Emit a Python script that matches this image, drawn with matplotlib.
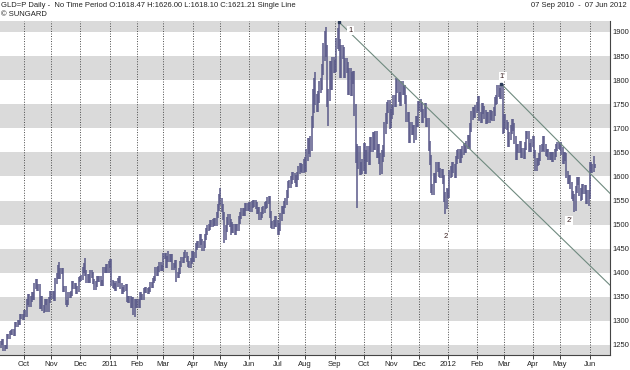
import numpy as np
import pandas as pd
import matplotlib
matplotlib.use('Agg')
import matplotlib.pyplot as plt

plt.rcParams['font.family'] = ['Liberation Sans', 'DejaVu Sans']

# GLD=P daily bars, one per weekday
dates = pd.bdate_range('2010-09-07', '2012-06-07')

highs = [
	1259, 1262, 1262, 1251, 1251, 1273, 1273, 1280, 1281, 1284, 1284, 1297, 1298, 1302, 1302, 1315, 1315, 1314,
	1323, 1323, 1346, 1355, 1355, 1352, 1360, 1360, 1378, 1387, 1387, 1376, 1376, 1351, 1351, 1332, 1345, 1346, 1346, 1350, 1363,
	1363, 1362, 1362, 1389, 1400, 1416, 1422, 1409, 1409, 1409, 1372, 1372, 1344, 1359, 1359, 1363, 1383, 1383, 1379, 1379, 1372, 1392,
	1394, 1396, 1411, 1421, 1431, 1406, 1398, 1398, 1406, 1406, 1401, 1388, 1382, 1393, 1394, 1394, 1393, 1385, 1411, 1412, 1419, 1419, 1424,
	1428, 1428, 1385, 1382, 1378, 1382, 1390, 1393, 1393, 1378, 1371, 1375, 1376, 1376, 1351, 1351, 1351, 1349, 1349, 1346, 1346,
	1346, 1346, 1359, 1359, 1355, 1369, 1370, 1370, 1369, 1371, 1380, 1381, 1390, 1394, 1412, 1412, 1414, 1422, 1422, 1416,
	1440, 1442, 1442, 1434, 1445, 1439, 1439, 1439, 1421, 1427, 1427, 1402, 1410, 1424, 1432, 1433, 1443, 1447, 1443, 1434, 1424, 1430, 1445,
	1446, 1444, 1461, 1466, 1466, 1481, 1481, 1471, 1465, 1481, 1493, 1500, 1502, 1510, 1510, 1511, 1514, 1514, 1527, 1543, 1563,
	1577, 1555, 1543, 1526, 1500, 1515, 1523, 1523, 1511, 1506, 1501, 1501, 1502, 1502, 1517, 1527, 1534, 1534, 1534, 1545, 1545, 1545,
	1546, 1546, 1549, 1552, 1552, 1551, 1547, 1537, 1536, 1527, 1537, 1539, 1546, 1549, 1557, 1560, 1560, 1528, 1507, 1510, 1517, 1517,
	1509, 1503, 1524, 1538, 1538, 1550, 1556, 1572, 1591, 1593, 1601, 1610, 1610, 1608, 1603, 1609, 1622, 1627, 1627, 1625, 1636,
	1640, 1656, 1679, 1679, 1684, 1725, 1782, 1804, 1817, 1772, 1777, 1798, 1804, 1834, 1878, 1903, 1911, 1873, 1781, 1839, 1839, 1849, 1849,
	1841, 1888, 1908, 1921, 1885, 1872, 1872, 1868, 1847, 1847, 1838, 1825, 1825, 1817, 1818, 1818, 1750, 1667, 1664, 1664, 1629, 1636,
	1669, 1669, 1654, 1663, 1663, 1682, 1682, 1692, 1692, 1694, 1694, 1667, 1667, 1649, 1655, 1665, 1713, 1732, 1755, 1758, 1758,
	1740, 1748, 1770, 1770, 1805, 1803, 1800, 1775, 1798, 1798, 1790, 1790, 1770, 1734, 1734, 1714, 1714, 1707, 1707, 1725, 1725, 1756,
	1756, 1760, 1754, 1741, 1752, 1752, 1722, 1722, 1673, 1644, 1585, 1607, 1607, 1630, 1630, 1629, 1618, 1616, 1616, 1604, 1567, 1575,
	1574, 1614, 1622, 1629, 1629, 1625, 1643, 1654, 1658, 1658, 1656, 1663, 1669, 1669, 1674, 1686, 1686, 1711, 1735, 1745, 1745, 1749,
	1754, 1767, 1767, 1734, 1752, 1752, 1747, 1738, 1734, 1734, 1737, 1737, 1736, 1744, 1766, 1769, 1790, 1790, 1784, 1792, 1792,
	1729, 1729, 1717, 1714, 1693, 1707, 1719, 1719, 1712, 1685, 1668, 1668, 1674, 1674, 1659, 1659, 1672, 1695, 1695, 1695, 1669, 1678,
	1684, 1684, 1654, 1638, 1639, 1648, 1666, 1668, 1684, 1684, 1667, 1658, 1657, 1651, 1651, 1650, 1651, 1656, 1668, 1672, 1672,
	1672, 1671, 1661, 1651, 1651, 1648, 1612, 1603, 1603, 1589, 1570, 1564, 1581, 1599, 1599, 1598, 1576, 1584, 1584, 1582, 1582, 1571, 1571,
	1630, 1630, 1625, 1642, 1626,
]

lows = [
	1244, 1249, 1237, 1237, 1241, 1241, 1263, 1263, 1270, 1271, 1269, 1269, 1287, 1288, 1292, 1292, 1304, 1302,
	1301, 1309, 1309, 1334, 1328, 1328, 1340, 1344, 1344, 1366, 1362, 1362, 1325, 1325, 1320, 1316, 1319, 1333, 1319, 1319, 1338,
	1346, 1346, 1341, 1341, 1377, 1388, 1387, 1387, 1397, 1360, 1360, 1332, 1329, 1332, 1347, 1347, 1351, 1367, 1367, 1356, 1356, 1360,
	1380, 1382, 1384, 1399, 1394, 1378, 1378, 1379, 1379, 1389, 1376, 1365, 1365, 1370, 1381, 1381, 1372, 1372, 1373, 1399, 1400, 1399, 1399,
	1410, 1373, 1368, 1366, 1362, 1363, 1370, 1378, 1366, 1355, 1355, 1359, 1363, 1339, 1337, 1337, 1327, 1327, 1313, 1309, 1326,
	1326, 1327, 1327, 1343, 1343, 1343, 1357, 1357, 1355, 1355, 1359, 1368, 1369, 1378, 1382, 1394, 1394, 1402, 1403, 1403,
	1404, 1428, 1410, 1410, 1422, 1422, 1422, 1405, 1405, 1409, 1381, 1389, 1390, 1398, 1412, 1420, 1421, 1431, 1422, 1412, 1410, 1410, 1418,
	1422, 1422, 1430, 1447, 1452, 1452, 1457, 1446, 1446, 1451, 1467, 1479, 1486, 1488, 1496, 1496, 1497, 1497, 1497, 1513, 1529,
	1540, 1527, 1510, 1462, 1468, 1484, 1499, 1495, 1478, 1482, 1482, 1478, 1478, 1486, 1486, 1501, 1511, 1518, 1517, 1517, 1529, 1528,
	1529, 1526, 1526, 1535, 1537, 1533, 1523, 1522, 1509, 1509, 1513, 1523, 1525, 1532, 1535, 1543, 1514, 1493, 1490, 1490, 1496, 1494,
	1478, 1478, 1487, 1508, 1522, 1522, 1534, 1540, 1556, 1575, 1577, 1585, 1592, 1587, 1579, 1579, 1593, 1606, 1609, 1608, 1608,
	1610, 1610, 1632, 1646, 1640, 1652, 1701, 1731, 1748, 1734, 1734, 1753, 1774, 1780, 1810, 1840, 1849, 1745, 1705, 1757, 1780, 1780, 1814,
	1814, 1817, 1864, 1861, 1805, 1805, 1844, 1804, 1804, 1814, 1770, 1770, 1767, 1767, 1793, 1726, 1627, 1534, 1616, 1603, 1603, 1605,
	1612, 1605, 1605, 1630, 1624, 1624, 1651, 1651, 1655, 1655, 1638, 1638, 1625, 1604, 1605, 1631, 1641, 1689, 1708, 1731, 1699,
	1701, 1720, 1728, 1745, 1745, 1774, 1755, 1747, 1747, 1770, 1770, 1750, 1713, 1713, 1670, 1670, 1687, 1687, 1670, 1676, 1703, 1703,
	1735, 1734, 1712, 1712, 1721, 1702, 1702, 1653, 1624, 1565, 1561, 1561, 1587, 1587, 1609, 1598, 1596, 1596, 1584, 1547, 1523, 1533,
	1556, 1556, 1596, 1598, 1607, 1597, 1597, 1625, 1636, 1628, 1628, 1638, 1645, 1648, 1648, 1656, 1656, 1656, 1693, 1717, 1722, 1722,
	1731, 1736, 1716, 1711, 1711, 1729, 1720, 1709, 1709, 1710, 1710, 1718, 1715, 1715, 1726, 1748, 1751, 1766, 1761, 1761, 1688,
	1691, 1699, 1696, 1662, 1662, 1675, 1689, 1694, 1667, 1635, 1635, 1649, 1649, 1639, 1639, 1636, 1636, 1654, 1677, 1651, 1651, 1651,
	1661, 1638, 1612, 1612, 1622, 1623, 1632, 1650, 1652, 1651, 1642, 1641, 1635, 1635, 1634, 1629, 1629, 1635, 1640, 1652, 1656,
	1655, 1645, 1626, 1626, 1632, 1596, 1585, 1585, 1573, 1554, 1548, 1527, 1528, 1565, 1582, 1560, 1548, 1552, 1564, 1564, 1543, 1543, 1538,
	1554, 1608, 1608, 1609, 1618,
]

y_ticks = [1250, 1300, 1350, 1400, 1450, 1500, 1550, 1600, 1650, 1700, 1750, 1800, 1850, 1900]

# trend lines, each through two pivot points (date, price)
line1_pts = [('2011-09-06', 1921), ('2011-11-08', 1803)]
line2_pts = [('2012-02-28', 1792), ('2012-06-01', 1607)]

pivot_text = ['1', "1'", '2', "2'"]
pivot_date = ['2011-09-19', '2012-02-29', '2011-12-29', '2012-05-10']
pivot_price = [1903, 1807, 1476, 1509]

assert len(highs) == len(lows) == len(dates), (len(highs), len(lows), len(dates))

x = np.arange(len(dates))


def date_idx(d):
	return dates.get_loc(pd.Timestamp(d))


fig = plt.figure(figsize=(6.3, 3.7), dpi=100)
ax = fig.add_axes([0, 15 / 370, 610 / 630, 334 / 370])

x_max = 468.5
ax.set_xlim(-0.5, x_max)
ax.set_ylim(1229.2, 1922.8)

# alternating bands
for lo in range(1200, 1951, 100):
	ax.axhspan(lo, lo + 50, color='#dadada', lw=0, zorder=0)

# month gridlines and labels
month_pos = [i for i in range(1, len(dates)) if dates[i].month != dates[i - 1].month]
month_lab = [str(dates[i].year) if dates[i].month == 1 else dates[i].strftime('%b') for i in month_pos]
ax.set_xticks(month_pos)
ax.set_xticklabels(month_lab)
for p in month_pos:
	ax.axvline(p, color='#4a4a4a', lw=0.7, ls=(0, (1, 1.6)), zorder=1)

ax.vlines(x, lows, highs, color='#5a5989', lw=1.1, zorder=3)

# trend lines
for pts in [line1_pts, line2_pts]:
	x0, y0 = date_idx(pts[0][0]), pts[0][1]
	x1, y1 = date_idx(pts[1][0]), pts[1][1]
	slope = (y1 - y0) / (x1 - x0)
	ax.plot([x0, x_max], [y0, y0 + slope * (x_max - x0)], color='#6f8a7f', lw=0.8, zorder=4)
	ax.plot([x0], [y0], marker='s', ms=1.8, color='#2d3d5a', zorder=5)

for t, d, p in zip(pivot_text, pivot_date, pivot_price):
	ax.text(date_idx(d), p, t, fontsize=5.5, color='#3a2020', ha='center', va='center', zorder=6,
		bbox=dict(boxstyle='square,pad=0.15', fc='white', ec='none'))

ax.yaxis.tick_right()
ax.set_yticks(y_ticks)
ax.tick_params(axis='y', length=0, pad=2, labelsize=5.5, labelcolor='#222222')
ax.tick_params(axis='x', length=3, width=0.7, color='#444444', pad=1.5, labelsize=5.5, labelcolor='#222222')
for s in ['left', 'top']:
	ax.spines[s].set_visible(False)
for s in ['bottom', 'right']:
	ax.spines[s].set_color('#444444')
	ax.spines[s].set_linewidth(0.8)

fig.text(0.002, 0.986, 'GLD=P Daily -  No Time Period O:1618.47 H:1626.00 L:1618.10 C:1621.21 Single Line',
	fontsize=5.5, color='#222222', ha='left', va='center')
fig.text(0.002, 0.962, '\u00a9 SUNGARD', fontsize=5.5, color='#222222', ha='left', va='center')
fig.text(0.995, 0.986, '07 Sep 2010  -  07 Jun 2012', fontsize=5.5, color='#222222', ha='right', va='center')

fig.savefig('out.png', dpi=100)
